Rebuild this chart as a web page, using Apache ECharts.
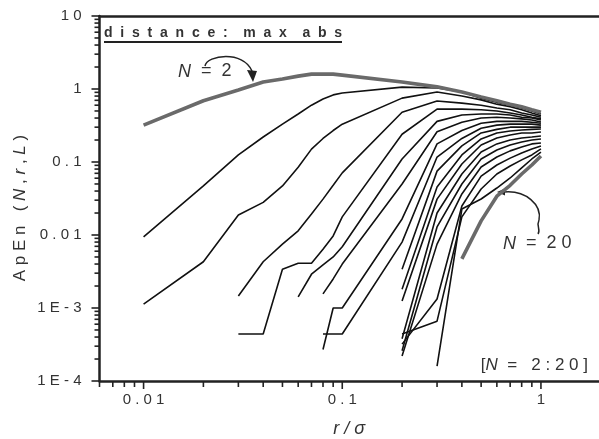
<!DOCTYPE html>
<html><head><meta charset="utf-8">
<script src="https://cdn.jsdelivr.net/npm/echarts@6/dist/echarts.min.js"></script>
<style>html,body{margin:0;padding:0;background:#fff}#c{width:599px;height:439px}</style>
</head><body><div id="c"></div>
<script>
// r / sigma grid
const rValues = [0.01,0.02,0.03,0.04,0.05,0.06,0.07,0.08,0.09,0.1,0.2,0.3,0.4,0.5,0.6,0.7,0.8,0.9,1.0];
// ApEn(N, r, L) per embedding dimension N (null = undefined at that r)
const apenN2  = [0.32,0.69,0.97,1.25,1.37,1.5,1.6,1.6,1.6,1.55,1.25,1.07,0.91,0.78,0.69,0.62,0.57,0.52,0.48];
const apenN3  = [0.0094,0.047,0.125,0.22,0.33,0.455,0.6,0.73,0.83,0.88,1.06,1.03,0.91,0.75,0.66,0.6,0.55,0.5,0.455];
const apenN4  = [0.00113,0.0043,0.0188,0.028,0.047,0.085,0.15,0.21,0.27,0.33,0.75,0.91,0.8,0.71,0.62,0.57,0.52,0.47,0.43];
const apenN5  = [null,null,0.00146,0.0043,0.0075,0.0114,0.0194,0.031,0.048,0.071,0.48,0.685,0.64,0.6,0.55,0.52,0.47,0.44,0.41];
const apenN6  = [null,null,0.00044,0.00044,0.0034,0.0041,0.0041,0.0064,0.0097,0.0177,0.24,0.53,0.53,0.52,0.5,0.47,0.44,0.41,0.39];
const apenN7  = [null,null,null,null,null,0.00142,0.0029,0.0039,0.005,0.0069,0.11,0.36,0.44,0.455,0.455,0.44,0.41,0.4,0.376];
const apenN8  = [null,null,null,null,null,null,null,0.00156,0.0025,0.004,0.05,0.26,0.35,0.4,0.41,0.4,0.39,0.376,0.353];
const apenN9  = [null,null,null,null,null,null,null,0.00027,0.001,0.001,0.0166,0.177,0.27,0.34,0.36,0.36,0.36,0.35,0.34];
const apenN10 = [null,null,null,null,null,null,null,0.00044,0.00044,0.00044,0.008,0.117,0.21,0.29,0.32,0.33,0.33,0.33,0.32];
const apenN11 = [null,null,null,null,null,null,null,null,null,null,0.0034,0.075,0.166,0.25,0.28,0.3,0.3,0.3,0.3];
const apenN12 = [null,null,null,null,null,null,null,null,null,null,0.0018,0.0455,0.125,0.207,0.25,0.266,0.274,0.28,0.283];
const apenN13 = [null,null,null,null,null,null,null,null,null,null,0.00125,0.031,0.094,0.171,0.213,0.234,0.25,0.25,0.258];
const apenN14 = [null,null,null,null,null,null,null,null,null,null,0.00038,0.02,0.0685,0.137,0.177,0.2,0.213,0.22,0.227];
const apenN15 = [null,null,null,null,null,null,null,null,null,null,0.00026,0.0129,0.05,0.11,0.146,0.171,0.188,0.2,0.207];
const apenN16 = [null,null,null,null,null,null,null,null,null,null,0.00022,0.0075,0.0365,0.0855,0.117,0.142,0.16,0.177,0.182];
const apenN17 = [null,null,null,null,null,null,null,null,null,null,0.00032,0.00133,0.025,0.064,0.091,0.113,0.133,0.151,0.166];
const apenN18 = [null,null,null,null,null,null,null,null,null,null,0.00044,0.00066,0.0177,0.0427,0.0685,0.088,0.107,0.125,0.151];
const apenN19 = [null,null,null,null,null,null,null,null,null,null,null,0.00016,0.0227,0.0311,0.044,0.0604,0.083,0.11,0.137];
const apenN20 = [null,null,null,null,null,null,null,null,null,null,null,null,0.0047,0.0156,0.034,0.048,0.0685,0.091,0.121];

const nValues = [2,3,4,5,6,7,8,9,10,11,12,13,14,15,16,17,18,19,20];
const apenSeries = [apenN2,apenN3,apenN4,apenN5,apenN6,apenN7,apenN8,apenN9,apenN10,apenN11,apenN12,apenN13,apenN14,apenN15,apenN16,apenN17,apenN18,apenN19,apenN20];

// axes
const X_MIN = 0.006, X_MAX = 1.96, Y_MIN = 1e-4, Y_MAX = 10;
const xTickMajor = [0.01, 0.1, 1];
const xTickLabels = ['0.01', '0.1', '1'];
const xTickMinor = [0.006,0.007,0.008,0.009,0.02,0.03,0.04,0.05,0.06,0.07,0.08,0.09,0.2,0.3,0.4,0.5,0.6,0.7,0.8,0.9];
const yTickMajor = [1e-4, 1e-3, 0.01, 0.1, 1, 10];
const yTickLabels = ['1E-4', '1E-3', '0.01', '0.1', '1', '10'];
const yTickMinor = [];
[1e-4, 1e-3, 1e-2, 1e-1, 1].forEach(d => { for (let k = 2; k <= 9; k++) yTickMinor.push(+(d * k).toPrecision(3)); });

const FONT = 'Liberation Sans, Arial, Helvetica, sans-serif';
const INK = '#222';
const TXT = '#333';
const spaced = s => s.split('').join(' ');
function labelFor(v, majors, labels) {
  const i = majors.findIndex(t => Math.abs(Math.log10(t) - Math.log10(v)) < 1e-6);
  return i >= 0 ? spaced(labels[i]) : '';
}

function tickSeries(values, axis, len) {
  return {
    type: 'custom', silent: true, clip: false, animation: false, z: 5,
    data: values.map(v => axis === 'x' ? [v, Y_MIN] : [X_MIN, v]),
    renderItem: (params, api) => {
      const p = api.coord([api.value(0), api.value(1)]);
      const shape = axis === 'x'
        ? { x1: p[0], y1: p[1], x2: p[0], y2: p[1] + len }
        : { x1: p[0], y1: p[1], x2: p[0] - len, y2: p[1] };
      return { type: 'line', shape, style: { stroke: INK, lineWidth: 1.6 } };
    }
  };
}

const lineSeries = apenSeries.map((vals, k) => {
  const N = nValues[k];
  const thick = (N === 2 || N === 20);
  return {
    type: 'line', name: 'N=' + N, showSymbol: false, animation: false, silent: true,
    z: thick ? 3 : 2,
    data: rValues.map((r, i) => [r, vals[i]]).filter(d => d[1] !== null),
    lineStyle: { color: thick ? '#6a6a6a' : '#111', width: thick ? 3.6 : 1.6 }
  };
});

const chart = echarts.init(document.getElementById('c'));
const axisLine = { show: true, lineStyle: { color: INK, width: 2.5 } };
const richT = (size) => ({ a: { fontSize: size, fontFamily: FONT, fill: TXT, color: TXT },
                           i: { fontSize: size, fontFamily: FONT, fontStyle: 'italic', fill: TXT, color: TXT } });
chart.setOption({
  animation: false,
  backgroundColor: '#fff',
  grid: { left: 99.5, right: 0, top: 16, height: 365, containLabel: false, outerBoundsMode: 'none' },
  xAxis: [
    {
      type: 'log', logBase: 10, min: X_MIN, max: X_MAX, position: 'bottom',
      axisLine, axisTick: { show: false }, splitLine: { show: false },
      axisLabel: { show: true, interval: 0, margin: 11, color: TXT, fontSize: 15, fontFamily: FONT,
        formatter: v => labelFor(v, xTickMajor, xTickLabels) },
      name: 'r / σ', nameLocation: 'middle', nameGap: 39,
      nameTextStyle: { fontStyle: 'italic', fontSize: 18, color: TXT, fontFamily: FONT }
    },
    {
      type: 'log', logBase: 10, min: X_MIN, max: X_MAX, position: 'top',
      axisLine: { show: true, lineStyle: { color: INK, width: 2.5 } },
      axisTick: { show: false }, axisLabel: { show: false }, splitLine: { show: false }
    }
  ],
  yAxis: {
    type: 'log', logBase: 10, min: Y_MIN, max: Y_MAX,
    axisLine, axisTick: { show: false }, splitLine: { show: false },
    axisLabel: { show: true, interval: 0, margin: 18, color: TXT, fontSize: 15, fontFamily: FONT,
      formatter: v => labelFor(v, yTickMajor, yTickLabels) }
  },
  series: [
    ...lineSeries,
    tickSeries(xTickMajor, 'x', 8),
    tickSeries(xTickMinor, 'x', 6),
    tickSeries(yTickMajor, 'y', 8),
    tickSeries(yTickMinor, 'y', 5)
  ],
  graphic: [
    { type: 'text', x: 20, y: 208, rotation: Math.PI / 2, silent: true,
      style: { text: '{a|A p E n   ( }{i|N}{a| , }{i|r}{a| , }{i|L}{a| )}', align: 'center', verticalAlign: 'middle', fill: TXT,
        rich: richT(17) } },
    { type: 'text', x: 104, y: 33, silent: true,
      style: { text: 'distance: max abs'.split(' ').map(w => w.split('').join('  ')).join('    '),
        font: 'bold 14px ' + FONT, fill: TXT, align: 'left', verticalAlign: 'middle' } },
    { type: 'line', silent: true, shape: { x1: 104, y1: 42, x2: 342, y2: 42 }, style: { stroke: INK, lineWidth: 2 } },
    { type: 'text', x: 178, y: 71.5, silent: true,
      style: { text: '{i|N}{a|  =  2}', align: 'left', verticalAlign: 'middle', fill: TXT, rich: richT(18) } },
    { type: 'bezierCurve', silent: true,
      shape: { x1: 205, y1: 66, cpx1: 207, cpy1: 55, cpx2: 243, cpy2: 50, x2: 252, y2: 71 },
      style: { stroke: INK, lineWidth: 1.5, fill: null } },
    { type: 'polygon', silent: true, shape: { points: [[247,70],[257,71],[253,82]] }, style: { fill: INK } },
    { type: 'text', x: 503, y: 243.5, silent: true,
      style: { text: '{i|N}{a|  =  2 0}', align: 'left', verticalAlign: 'middle', fill: TXT, rich: richT(18) } },
    { type: 'bezierCurve', silent: true,
      shape: { x1: 538, y1: 234, cpx1: 541, cpy1: 230, cpx2: 536, cpy2: 226, x2: 539, y2: 220 },
      style: { stroke: INK, lineWidth: 1.5, fill: null } },
    { type: 'bezierCurve', silent: true,
      shape: { x1: 539, y1: 220, cpx1: 542, cpy1: 205, cpx2: 526, cpy2: 190, x2: 504, y2: 192 },
      style: { stroke: INK, lineWidth: 1.5, fill: null } },
    { type: 'polygon', silent: true, shape: { points: [[505,188.5],[505,195.5],[497,192]] }, style: { fill: INK } },
    { type: 'text', x: 588, y: 365.5, silent: true,
      style: { text: '{a|[}{i|N}{a|  =   2 : 2 0 ]}', align: 'right', verticalAlign: 'middle', fill: TXT, rich: richT(17) } }
  ]
});
</script></body></html>
